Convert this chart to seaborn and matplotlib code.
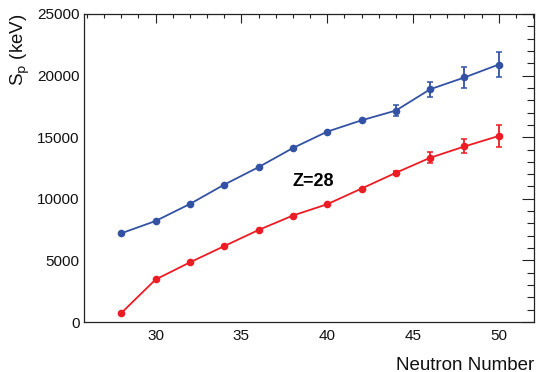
import numpy as np
import pandas as pd
import matplotlib
matplotlib.use("Agg")
import matplotlib.pyplot as plt
from matplotlib.ticker import MultipleLocator
import seaborn as sns

# Neutron numbers for the Z=28 isotopic chain
neutrons = [28, 30, 32, 34, 36, 38, 40, 42, 44, 46, 48, 50]

# Proton separation energies (keV) for the two calculations
sp_blue = [7200, 8200, 9580, 11150, 12570, 14120, 15450, 16370, 17160, 18890, 19850, 20900]
err_blue = [0, 0, 0, 0, 0, 0, 0, 0, 480, 630, 860, 1000]
sp_red = [730, 3450, 4840, 6160, 7470, 8640, 9560, 10830, 12110, 13330, 14250, 15100]
err_red = [0, 0, 0, 0, 0, 0, 0, 0, 150, 430, 570, 880]

BLUE = "#3452a4"
RED = "#ec1c24"

sns.set_theme(style="white")
plt.rcParams["font.family"] = ["Liberation Sans", "DejaVu Sans"]

df = pd.DataFrame({
    "N": neutrons * 2,
    "Sp": sp_blue + sp_red,
    "err": err_blue + err_red,
    "set": ["blue"] * len(neutrons) + ["red"] * len(neutrons),
})

fig = plt.figure(figsize=(5.39, 3.72), dpi=100)
ax = fig.add_axes([0.155, 0.1344, 0.8357, 0.828])

sns.lineplot(data=df, x="N", y="Sp", hue="set", palette={"blue": BLUE, "red": RED},
             marker="o", markersize=5.5, markeredgewidth=0, linewidth=1.3,
             legend=False, ax=ax, errorbar=None)

for name, col in (("blue", BLUE), ("red", RED)):
    sub = df[(df["set"] == name) & (df["err"] > 0)]
    ax.errorbar(sub["N"], sub["Sp"], yerr=sub["err"], fmt="none", ecolor=col,
                elinewidth=1.3, capsize=2.0, capthick=1.1)

ax.set_xlim(25.8, 52.05)
ax.set_ylim(0, 25000)
ax.xaxis.set_major_locator(MultipleLocator(5))
ax.xaxis.set_minor_locator(MultipleLocator(1))
ax.yaxis.set_major_locator(MultipleLocator(5000))
ax.yaxis.set_minor_locator(MultipleLocator(1000))

for s in ax.spines.values():
    s.set_color("#222222")
    s.set_linewidth(0.9)

ax.tick_params(axis="both", which="both", direction="in", top=True, right=True,
               color="#222222", width=0.8, labelsize=11, labelcolor="#111111")
ax.tick_params(axis="x", which="major", length=6.5, pad=5)
ax.tick_params(axis="x", which="minor", length=3.2)
ax.tick_params(axis="y", which="major", length=9.0, pad=3)
ax.tick_params(axis="y", which="minor", length=4.8)

ax.set_xlabel("Neutron Number", fontsize=13.5, color="#111111")
ax.xaxis.set_label_coords(1.0, -0.112)
ax.xaxis.label.set_horizontalalignment("right")
ax.set_ylabel(r"S$_{\rm p}$ (keV)", fontsize=13.5, color="#111111")
ax.yaxis.set_label_coords(-0.14, 1.0)
ax.yaxis.label.set_verticalalignment("center")
ax.yaxis.label.set_horizontalalignment("right")

ax.text(39.2, 11400, "Z=28", fontsize=13, fontweight="bold", color="black",
        ha="center", va="center")

fig.savefig("out.png", dpi=100)
